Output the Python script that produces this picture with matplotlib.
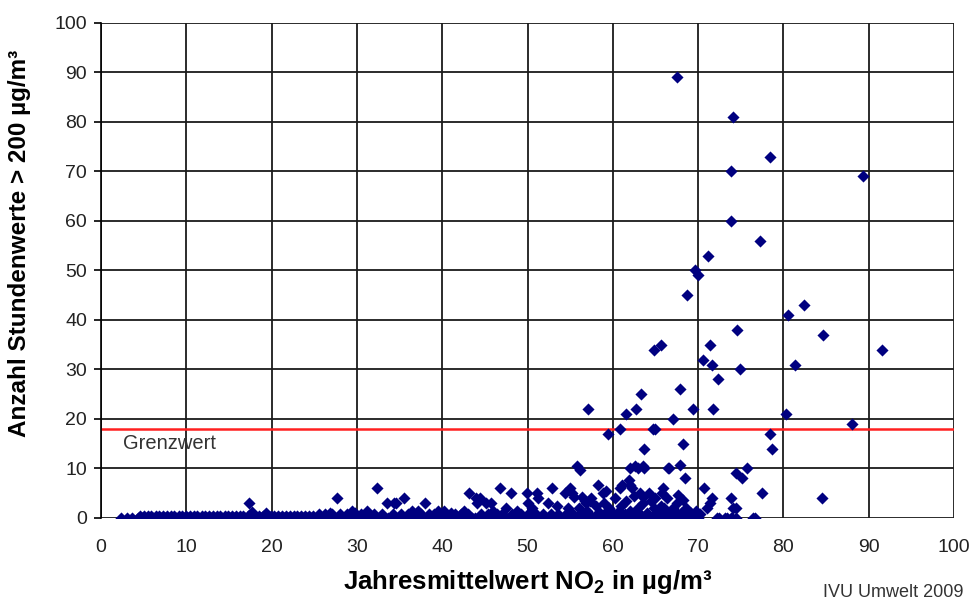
import matplotlib.pyplot as plt

plt.rcParams['font.family'] = ['Liberation Sans', 'DejaVu Sans']
plt.rcParams['mathtext.fontset'] = 'custom'
plt.rcParams['mathtext.rm'] = 'Liberation Sans'
plt.rcParams['mathtext.bf'] = 'Liberation Sans:bold'

# stations with exceedances (x = annual mean NO2, y = hours > 200 ug/m3)
pts_x = [67.5, 74.1, 78.4, 73.9, 89.3, 73.9, 77.2, 71.2, 69.6, 70.0, 68.7, 82.4,
         80.5, 74.6, 84.6, 64.8, 65.7, 71.4, 91.6, 70.6, 71.6, 74.9, 81.3, 72.3,
         67.9, 63.3, 57.1, 62.7, 61.6, 69.4, 71.8, 67.0, 80.3, 88.0, 64.7, 65.0,
         60.8, 59.4, 78.4, 78.7, 63.7, 68.2,
         55.8, 56.1, 62.0, 62.6, 62.9, 63.5, 63.6, 66.5, 66.6, 67.9, 68.5, 75.7,
         74.4, 75.1, 61.9, 62.0, 62.2, 60.8, 61.1, 58.8, 55.0, 55.2, 55.5, 56.4,
         56.7, 63.2, 63.5, 65.9, 65.8, 66.3, 67.7, 68.2, 67.5, 70.7, 71.6, 71.4,
         71.1, 73.9, 74.1, 74.5, 77.5, 84.5, 66.0, 67.0, 67.5, 68.0, 69.2, 69.4,
         17.4, 17.7, 19.4, 27.7, 26.8, 29.4, 29.8, 31.2, 32.4, 33.5, 34.3, 34.6,
         35.5, 38.0, 36.5, 39.5, 41.0, 43.2, 44.0, 44.4, 44.1, 45.1, 45.7, 46.8,
         48.1, 49.9, 51.1, 51.2, 52.9, 54.4, 52.4, 50.5, 47.5, 46.0, 42.5, 48.8,
         56.0, 56.8, 57.0, 57.5, 58.0, 58.5, 59.0, 59.5, 60.0, 60.3, 61.0, 61.5,
         62.0, 62.5, 63.0, 63.5, 64.0, 64.3, 64.8, 65.0, 65.3, 58.3, 59.2, 57.3,
         60.7, 62.8, 64.5, 65.6, 66.8, 68.6, 69.8, 53.5, 54.8, 50.0, 40.2, 37.2]
pts_y = [89, 81, 73, 70, 69, 60, 56, 53, 50, 49, 45, 43,
         41, 38, 37, 34, 35, 35, 34, 32, 31, 30, 31, 28,
         26, 25, 22, 22, 21, 22, 22, 20, 21, 19, 18, 18,
         18, 17, 17, 14, 14, 15,
         10.5, 9.7, 10, 10.6, 10, 10.6, 10, 10, 10, 10.8, 8, 10,
         9, 8, 7.7, 6.7, 6, 6, 6.7, 5, 6, 5, 4.2, 4.3,
         3.5, 5, 4.3, 6, 5, 4, 4.6, 3.6, 3, 6, 4, 3,
         2, 4, 2, 2, 5, 4, 2, 2, 1, 1, 1, 0.5,
         3, 1.3, 1.1, 4, 1, 1.5, 1, 1.5, 6, 3, 3, 3,
         4, 3, 1.5, 1.5, 1, 5, 4, 4, 3, 3, 3, 6,
         5, 5, 5, 4, 6, 5, 3, 2, 2, 1.5, 1.5, 1.5,
         2, 3, 1.5, 4, 2.5, 1, 3, 2, 1, 4, 2.5, 3.5,
         1.5, 4.5, 2, 3, 1, 5, 2, 4, 1.5, 6.7, 5.5, 3.5,
         1.5, 0.8, 3.5, 2.5, 1.5, 2, 1.5, 2.5, 2, 3, 1.5, 1.5]

# stations without exceedances
zero_x = [2.4, 3.0, 3.6, 4.3, 4.8, 5.2, 5.7, 6.1, 6.6, 7.0, 7.5, 7.9, 8.4, 8.8,
          9.3, 9.7, 10.2, 10.6, 11.1, 11.5, 12.0, 12.4, 12.9, 13.3, 13.8, 14.2,
          14.7, 15.1, 15.6, 16.0, 16.5, 16.9, 17.4, 17.8, 18.3, 18.7, 19.2, 19.6,
          20.1, 20.5, 21.0, 21.4, 21.9, 22.3, 22.8, 23.2, 23.7, 24.1, 24.6, 25.0,
          25.5, 25.9, 26.4, 26.8, 27.3, 27.7, 28.2, 28.6, 29.1, 29.5, 30.0, 30.4,
          30.9, 31.3, 31.8, 32.2, 32.7, 33.1, 33.6, 34.0, 34.5, 34.9, 35.4, 35.8,
          36.3, 36.7, 37.2, 37.6, 38.1, 38.5, 39.0, 39.4, 39.9, 40.3, 40.8, 41.2,
          41.7, 42.1, 42.6, 43.0, 43.5, 43.9, 44.4, 44.8, 45.3, 45.7, 46.2, 46.6,
          47.1, 47.5, 48.0, 48.4, 48.9, 49.3, 49.8, 50.2, 50.7, 51.1, 51.6, 52.0,
          52.5, 52.9, 53.4, 53.8, 54.3, 54.7, 55.2, 55.6, 56.1, 56.5, 57.0, 57.4,
          57.9, 58.3, 58.8, 59.2, 59.7, 60.1, 60.6, 61.0, 61.5, 61.9, 62.4, 62.8,
          63.3, 63.7, 64.2, 64.6, 65.1, 65.5, 66.0, 66.4, 66.9, 67.3, 67.8, 68.2,
          68.7, 69.1, 69.6, 70.0, 72.2, 72.5, 73.1, 73.4, 73.8, 74.0, 74.5, 76.4, 76.7]
zero_x2 = [4.6, 5.0, 5.5, 5.9, 6.4, 6.8, 7.3, 7.7, 8.2, 8.6, 9.1, 9.5, 10.0,
           10.4, 10.9, 11.3, 11.8, 12.2, 12.7, 13.1, 13.6, 14.0, 14.5, 14.9,
           15.4, 15.8, 16.3, 16.7, 17.2, 17.6, 18.1, 18.5, 19.0, 19.4, 19.9,
           20.3, 20.8, 21.2, 21.7, 22.1, 22.6, 23.0, 23.5, 23.9, 24.4, 24.8]
zero_y2 = [0.3] * len(zero_x2)
one_x = [25.5, 26.3, 27.1, 28.0, 28.8, 30.5, 32.0, 33.0, 34.2, 35.2, 36.0, 37.5,
         38.4, 39.0, 40.5, 41.5, 42.2, 43.0, 44.6, 45.4, 46.4, 47.0, 48.2, 49.2,
         50.0, 51.0, 51.8, 52.7, 53.6, 54.5, 55.3, 56.2, 57.2, 58.1, 59.0, 59.8,
         60.6, 61.4, 62.3, 63.2, 64.0, 64.9, 65.8, 66.6, 68.3, 70.2]
one_y = [0.8] * len(one_x)

fig = plt.figure(figsize=(9.72, 6.03), dpi=100)
ax = fig.add_axes([0.1039, 0.141, 0.8776, 0.821])

mk = dict(marker='D', s=38, color='#000080', lw=0, zorder=3)
ax.scatter(zero_x, [0] * len(zero_x), **mk)
ax.scatter(zero_x2, zero_y2, **mk)
ax.scatter(one_x, one_y, **mk)
ax.scatter(pts_x, pts_y, **mk)

ax.axhline(18, color='#ff2020', lw=1.8, zorder=2)
ax.text(2.6, 14.0, 'Grenzwert', fontsize=14.5, color='#333333')

ax.set_xlim(0, 100)
ax.set_ylim(0, 100)
ax.set_xticks(range(0, 101, 10))
ax.set_yticks(range(0, 101, 10))
ax.grid(True, color='#1a1a1a', lw=1.3, zorder=1)
ax.set_axisbelow(True)
for side in ['top', 'right', 'bottom']:
    ax.spines[side].set_visible(False)
ax.spines['left'].set_color('black')
ax.spines['left'].set_linewidth(1.2)
ax.tick_params(axis='both', labelsize=14, labelcolor='#222222', direction='out',
               length=5, width=1.2, pad=5)
ax.tick_params(axis='x', length=0, pad=15)

ax.set_ylabel('Anzahl Stundenwerte > 200 µg/m³', fontsize=17.5, fontweight='bold')
ax.yaxis.set_label_coords(-0.082, 0.555)
ax.set_xlabel(r'Jahresmittelwert NO$_\mathbf{2}$ in µg/m³', fontsize=18.5, fontweight='bold', labelpad=9)
fig.text(0.991, 0.004, 'IVU Umwelt 2009', ha='right', va='bottom', fontsize=13, color='#333333')

fig.savefig('out.png', dpi=100)
